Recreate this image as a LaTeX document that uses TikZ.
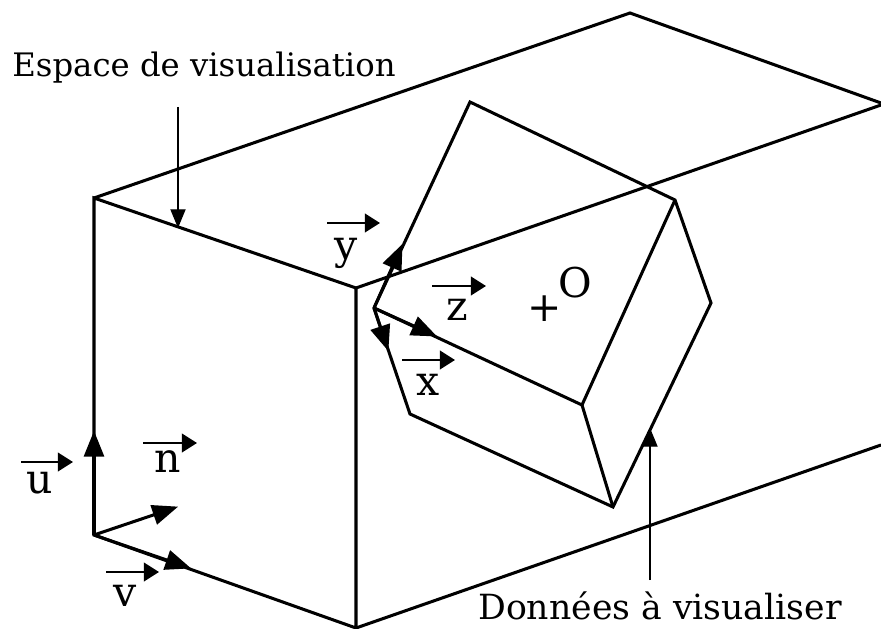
\documentclass[tikz,border=0pt]{standalone}
\usepackage{fontspec}
\setmainfont{DejaVu Serif}
\usetikzlibrary{arrows.meta}

\begin{document}
\begin{tikzpicture}[x=0.03cm, y=-0.03cm,
    edge/.style={line width=2.6pt, black},
    axis/.style={line width=2.6pt, black, -{Triangle[length=22pt, width=17pt]}, shorten >=-1pt},
    vec/.style={line width=1.8pt, black, -{Triangle[length=13pt, width=16pt]}},
    lead/.style={line width=1pt, black, -{Triangle[length=16pt, width=13pt]}},
    lbl/.style={inner sep=0pt, font=\fontsize{27.6}{30}\selectfont},
    sym/.style={inner sep=0pt, font=\fontsize{35}{38}\selectfont}]
    \useasboundingbox (0,0) rectangle (881,629);
    % espace de visualisation
    \coordinate (fa) at (94,198);
    \coordinate (fb) at (356,288);
    \coordinate (fc) at (356,628);
    \coordinate (fd) at (94,535);
    \coordinate (ba) at (630,13);
    \coordinate (bb) at (881,103);
    \coordinate (bc) at (881,105);
    \coordinate (bd) at (881,445);
    \draw[edge] (fa) -- (fb) -- (fc) -- (fd) -- cycle;
    \draw[edge] (fa) -- (ba) -- (bb);
    \draw[edge] (fb) -- (bc);
    \draw[edge] (fc) -- (bd);
    % donnees
    \coordinate (p) at (374,308);
    \coordinate (q) at (470,102);
    \coordinate (r) at (675,200);
    \coordinate (s) at (711,303);
    \coordinate (t) at (613,507);
    \coordinate (w) at (410,414);
    \coordinate (m) at (582,405);
    \draw[edge] (p) -- (q) -- (r) -- (s) -- (t) -- (w) -- cycle;
    \draw[edge] (p) -- (m) -- (r);
    \draw[edge] (m) -- (t);
    % reperes
    \coordinate (ytip) at (402,245);
    \coordinate (xtip) at (388,350);
    \coordinate (ztip) at (436,336);
    \coordinate (utip) at (94,432);
    \coordinate (ntip) at (177,507);
    \coordinate (vtip) at (190,568);
    \draw[axis] (p) -- (ytip);
    \draw[axis] (p) -- (xtip);
    \draw[axis] (p) -- (ztip);
    \draw[axis] (fd) -- (utip);
    \draw[axis] (fd) -- (ntip);
    \draw[axis] (fd) -- (vtip);
    % vecteurs
    \node[sym] (ylbl) at (346,253) {y};
    \node[sym] (zlbl) at (457,310) {z};
    \node[sym] (xlbl) at (428,385) {x};
    \node[sym] (ulbl) at (40,483) {u};
    \node[sym] (nlbl) at (168,462) {n};
    \node[sym] (vlbl) at (125,596) {v};
    \coordinate (ya) at (327,223); \coordinate (yb) at (380,223);
    \coordinate (za) at (432,286); \coordinate (zb) at (486,286);
    \coordinate (xa) at (402,360); \coordinate (xb) at (455,360);
    \coordinate (ua) at (21,462); \coordinate (ub) at (73,462);
    \coordinate (na) at (143,443); \coordinate (nb) at (197,443);
    \coordinate (va) at (106,572); \coordinate (vb) at (159,572);
    \draw[vec] (ya) -- (yb);
    \draw[vec] (za) -- (zb);
    \draw[vec] (xa) -- (xb);
    \draw[vec] (ua) -- (ub);
    \draw[vec] (na) -- (nb);
    \draw[vec] (va) -- (vb);
    \node[sym] (plus) at (545,309) {+};
    \node[sym] (orig) at (575,283) {O};
    % textes
    \node[lbl] (espace) at (204,68) {Espace de visualisation};
    \node[lbl, font=\fontsize{29.6}{32}\selectfont] (donnees) at (660,606) {Données à visualiser};
    \coordinate (ea) at (178,107); \coordinate (eb) at (178,228);
    \coordinate (da) at (650,580); \coordinate (db) at (650,428);
    \draw[lead] (ea) -- (eb);
    \draw[lead] (da) -- (db);
\end{tikzpicture}
\end{document}
